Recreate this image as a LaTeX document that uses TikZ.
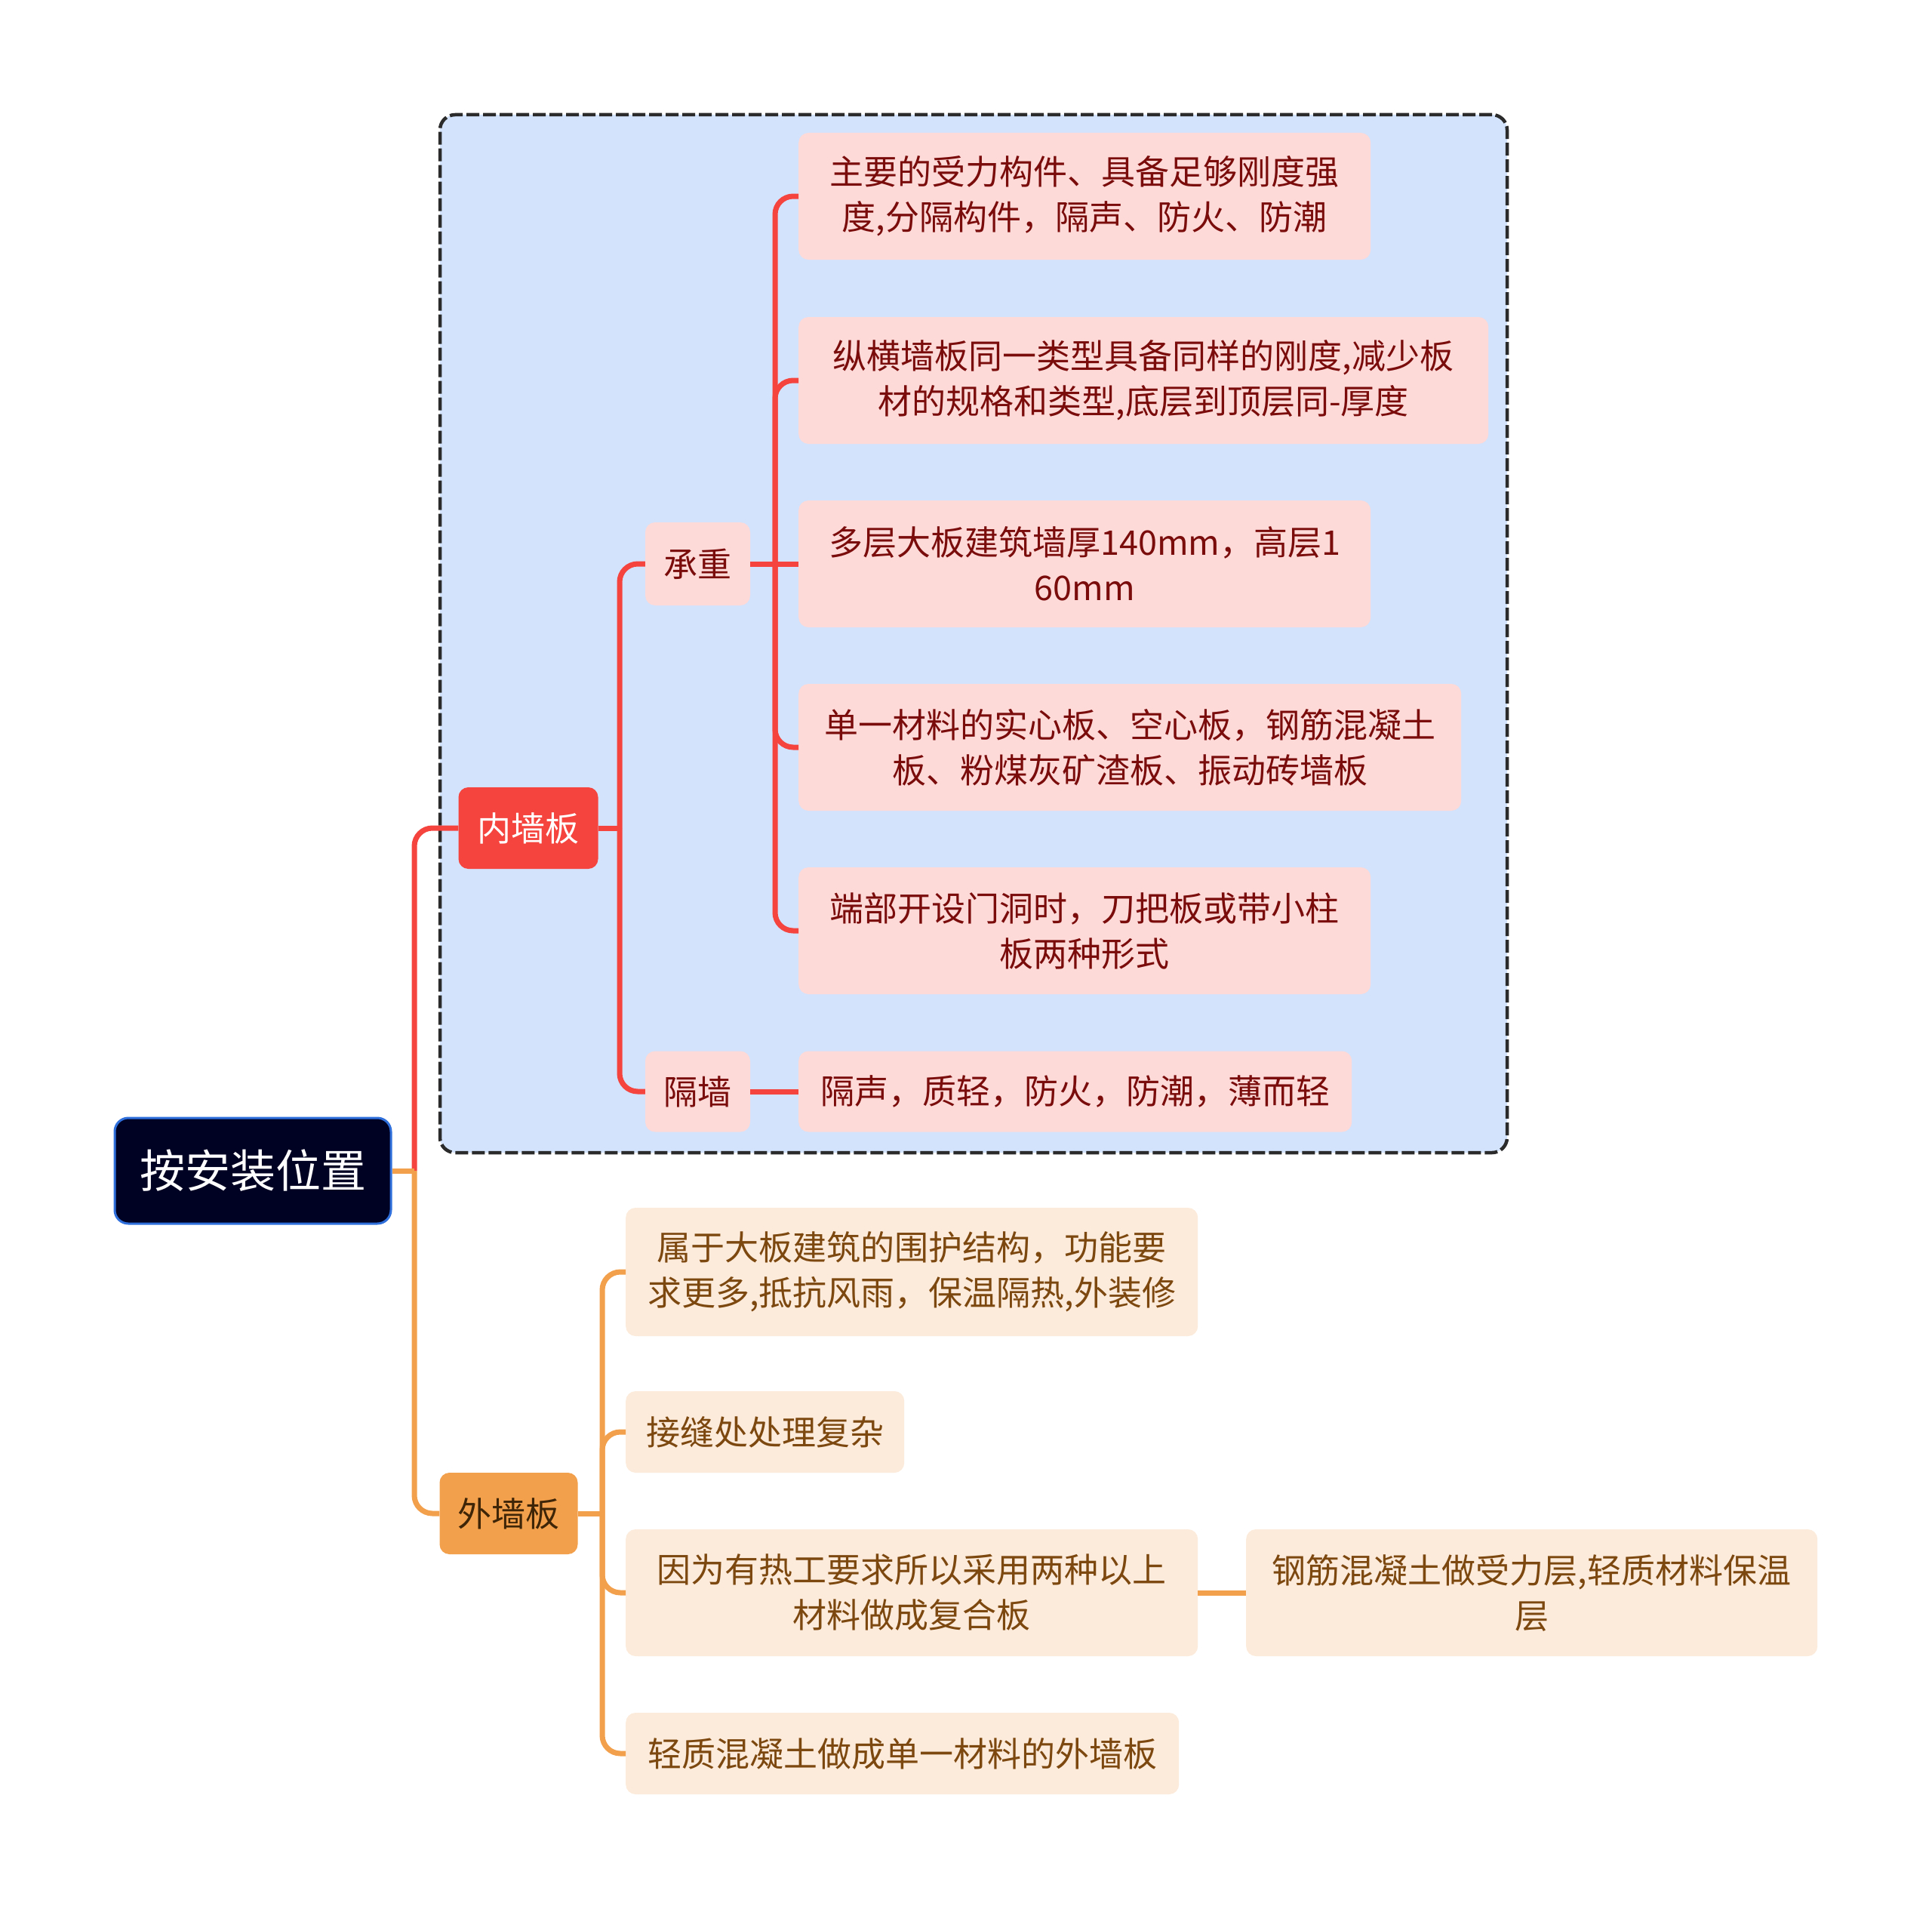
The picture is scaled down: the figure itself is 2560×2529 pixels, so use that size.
\documentclass[tikz,border=0pt]{standalone}
\usepackage{fontspec}
\setmainfont{Noto Sans CJK SC}
\definecolor{rootfill}{HTML}{000224}
\definecolor{rootdraw}{HTML}{2F6FDB}
\definecolor{redc}{HTML}{F5443E}
\definecolor{orc}{HTML}{F3A04C}
\definecolor{pinkfill}{HTML}{FDDAD8}
\definecolor{peachfill}{HTML}{FCEBDA}
\definecolor{grpfill}{HTML}{D3E3FC}
\definecolor{grpdraw}{HTML}{2B2B2B}
\definecolor{redtext}{HTML}{7A0C0C}
\definecolor{browntext}{HTML}{7D4710}
\definecolor{waitext}{HTML}{3F2508}
\begin{document}
\begin{tikzpicture}[x=1pt,y=-1pt,
  base/.style={inner sep=0pt, align=center, font=\fontsize{45}{60}\selectfont},
  rootbox/.style={base, rounded corners=18pt, fill=rootfill, draw=rootdraw, line width=3pt, text=white, font=\fontsize{60}{72}\selectfont},
  redbox/.style={base, rounded corners=13pt, fill=redc, text=white},
  orbox/.style={base, rounded corners=13pt, fill=orc, text=waitext},
  pinkbox/.style={base, rounded corners=13pt, fill=pinkfill, text=redtext},
  peachbox/.style={base, rounded corners=13pt, fill=peachfill, text=browntext},
  grpbox/.style={rounded corners=20pt, fill=grpfill, draw=grpdraw, line width=4.5pt, dash pattern=on 17pt off 5pt},
  redline/.style={draw=redc, line width=7pt, rounded corners=24pt},
  orline/.style={draw=orc, line width=7pt, rounded corners=24pt}
]
\useasboundingbox (0,0) rectangle (2560,2529);
\fill[white] (0,0) rectangle (2560,2529);

% group frame
\node[grpbox, minimum width=1414pt, minimum height=1375pt] (grp) at (1290,839.5) {};

% nodes
\node[rootbox, minimum width=366pt, minimum height=140pt] (root) at (335,1551) {按安装位置};
\node[redbox, minimum width=185pt, minimum height=108pt] (nei) at (700,1097) {内墙板};
\node[orbox, minimum width=183pt, minimum height=108pt] (wai) at (674,2005) {外墙板};
\node[pinkbox, minimum width=139pt, minimum height=110pt] (cz) at (924.5,747) {承重};
\node[pinkbox, minimum width=139pt, minimum height=107pt] (gq) at (924.5,1446) {隔墙};

\node[pinkbox, anchor=west, minimum width=758pt, minimum height=168pt] (l1) at (1058,260) {主要的受力构件、具备足够刚度强\\度,分隔构件，隔声、防火、防潮};
\node[pinkbox, anchor=west, minimum width=914pt, minimum height=168pt] (l2) at (1058,504) {纵横墙板同一类型具备同样的刚度,减少板\\材的规格和类型,底层到顶层同-厚度};
\node[pinkbox, anchor=west, minimum width=758pt, minimum height=168pt] (l3) at (1058,747) {多层大板建筑墙厚140mm，高层1\\60mm};
\node[pinkbox, anchor=west, minimum width=878pt, minimum height=168pt] (l4) at (1058,990) {单一材料的实心板、空心板，钢筋混凝土\\板、粉煤灰矿渣板、振动砖墙板};
\node[pinkbox, anchor=west, minimum width=758pt, minimum height=168pt] (l5) at (1058,1233) {端部开设门洞时，刀把板或带小柱\\板两种形式};
\node[pinkbox, anchor=west, minimum width=733pt, minimum height=107pt] (l6) at (1058,1446) {隔声，质轻，防火，防潮，薄而轻};

\node[peachbox, anchor=west, minimum width=758pt, minimum height=170pt] (o1) at (829,1685) {属于大板建筑的围护结构，功能要\\求更多,抵抗风雨，保温隔热,外装修};
\node[peachbox, anchor=west, minimum width=369pt, minimum height=108pt] (o2) at (829,1897) {接缝处处理复杂};
\node[peachbox, anchor=west, minimum width=758pt, minimum height=168pt] (o3) at (829,2110) {因为有热工要求所以采用两种以上\\材料做成复合板};
\node[peachbox, anchor=west, minimum width=733pt, minimum height=108pt] (o4) at (829,2323) {轻质混凝土做成单一材料的外墙板};
\node[peachbox, anchor=west, minimum width=757pt, minimum height=168pt] (o5) at (1651,2110) {钢筋混凝土做受力层,轻质材料保温\\层};

% junctions
\coordinate (j0) at (549,1551);
\coordinate (j1) at (821,1097);
\coordinate (j2) at (1027,747);
\coordinate (j3) at (798,2005);

% connectors
\begin{scope}[on background layer/.style={}]
\draw[redline] (j0) |- (nei.west);
\draw[orline] (j0) |- (wai.west);
\draw[orline] (root.east) -- (j0);

\draw[redline] (nei.east) -- (j1);
\draw[redline] (j1) |- (cz.west);
\draw[redline] (j1) |- (gq.west);

\draw[redline] (cz.east) -- (j2);
\draw[redline] (j2) |- (l1.west);
\draw[redline] (j2) |- (l2.west);
\draw[redline] (j2) -- (l3.west);
\draw[redline] (j2) |- (l4.west);
\draw[redline] (j2) |- (l5.west);

\draw[redline] (gq.east) -- (l6.west);

\draw[orline] (wai.east) -- (j3);
\draw[orline] (j3) |- (o1.west);
\draw[orline] (j3) |- (o2.west);
\draw[orline] (j3) |- (o3.west);
\draw[orline] (j3) |- (o4.west);

\draw[orline] (o3.east) -- (o5.west);
\end{scope}
\end{tikzpicture}
\end{document}
